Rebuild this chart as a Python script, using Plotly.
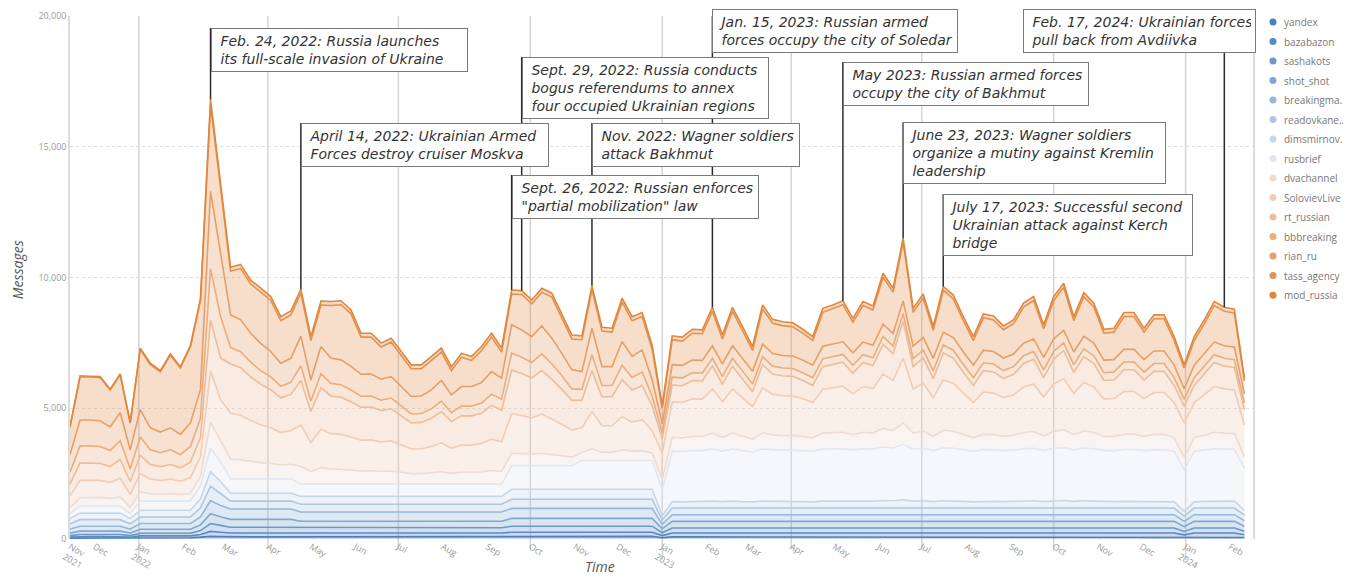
import plotly.graph_objects as go
import pandas as pd

# ---------------- data (weekly message counts) ----------------
weeks = pd.date_range("2021-11-14", periods=118, freq="7D")

yandex = [30, 40, 40, 40, 40, 40, 30, 50, 50, 50,
          50, 50, 50, 70, 100, 90, 80, 80, 80, 80,
          80, 80, 80, 80, 80, 80, 80, 80, 80, 80,
          80, 80, 80, 80, 80, 80, 80, 80, 80, 80,
          80, 80, 80, 80, 100, 100, 100, 100, 100, 100,
          100, 100, 100, 100, 100, 100, 100, 100, 100, 50,
          80, 80, 80, 80, 80, 80, 80, 80, 80, 80,
          80, 80, 80, 80, 80, 80, 80, 80, 80, 80,
          80, 80, 80, 80, 80, 80, 80, 80, 80, 80,
          80, 80, 80, 80, 80, 80, 80, 80, 80, 80,
          80, 80, 80, 80, 80, 80, 80, 80, 80, 80,
          80, 60, 80, 80, 80, 80, 80, 60]
bazabazon = [40, 50, 50, 50, 50, 50, 40, 70, 70, 70,
             70, 70, 70, 100, 190, 170, 150, 150, 150, 150,
             150, 150, 150, 150, 150, 150, 150, 150, 150, 150,
             150, 150, 150, 150, 150, 150, 150, 150, 150, 150,
             150, 150, 150, 150, 160, 160, 160, 160, 160, 160,
             160, 160, 160, 160, 160, 160, 160, 160, 160, 80,
             150, 150, 150, 150, 150, 150, 150, 150, 150, 150,
             150, 150, 150, 150, 150, 150, 150, 150, 150, 150,
             150, 150, 150, 150, 150, 150, 150, 150, 150, 150,
             150, 150, 150, 150, 150, 150, 150, 150, 150, 150,
             150, 150, 150, 150, 150, 150, 150, 150, 150, 150,
             150, 100, 150, 150, 150, 150, 150, 100]
sashakots = [60, 80, 80, 80, 80, 80, 60, 100, 100, 100,
             100, 100, 100, 150, 300, 260, 220, 220, 220, 220,
             220, 220, 220, 200, 200, 200, 200, 200, 200, 200,
             200, 200, 200, 200, 200, 200, 200, 200, 200, 200,
             200, 200, 200, 200, 230, 230, 230, 230, 230, 230,
             230, 230, 230, 230, 230, 230, 230, 230, 230, 110,
             190, 190, 190, 190, 190, 190, 190, 190, 190, 190,
             190, 190, 190, 190, 190, 190, 190, 190, 190, 190,
             190, 190, 190, 190, 190, 190, 190, 190, 190, 190,
             190, 190, 190, 190, 190, 190, 190, 190, 190, 190,
             190, 190, 190, 190, 190, 190, 190, 190, 190, 190,
             190, 130, 190, 190, 190, 190, 190, 140]
shot_shot = [100, 130, 130, 130, 130, 130, 100, 150, 150, 150,
             150, 150, 150, 220, 380, 330, 300, 300, 300, 300,
             300, 300, 300, 250, 250, 250, 250, 250, 250, 250,
             250, 250, 250, 250, 250, 250, 250, 250, 250, 250,
             250, 250, 250, 250, 300, 300, 300, 300, 300, 300,
             300, 300, 300, 300, 300, 300, 300, 300, 300, 150,
             255, 255, 255, 255, 255, 255, 255, 255, 255, 255,
             255, 255, 255, 255, 255, 255, 255, 255, 255, 255,
             255, 255, 255, 255, 255, 255, 255, 255, 255, 255,
             255, 255, 255, 255, 255, 255, 255, 255, 255, 255,
             255, 255, 255, 255, 255, 255, 255, 255, 255, 255,
             255, 180, 255, 255, 255, 255, 255, 190]
breakingmash = [150, 190, 190, 190, 190, 190, 150, 220, 220, 220,
                220, 220, 220, 300, 500, 430, 400, 400, 400, 400,
                400, 400, 400, 350, 350, 350, 350, 350, 350, 350,
                350, 350, 350, 350, 350, 350, 350, 350, 350, 350,
                350, 350, 350, 350, 380, 380, 380, 380, 380, 380,
                380, 380, 380, 380, 380, 380, 380, 380, 380, 170,
                255, 255, 255, 255, 255, 255, 255, 255, 255, 255,
                255, 255, 255, 255, 255, 255, 255, 255, 255, 255,
                255, 255, 255, 255, 255, 255, 255, 255, 255, 255,
                255, 255, 255, 255, 255, 255, 255, 255, 255, 255,
                255, 255, 255, 255, 255, 255, 255, 255, 255, 255,
                255, 200, 255, 255, 255, 255, 255, 210]
readovkanews = [200, 250, 250, 250, 250, 250, 200, 250, 250, 250,
                250, 250, 250, 350, 550, 460, 300, 300, 300, 300,
                300, 300, 300, 300, 300, 300, 300, 300, 300, 300,
                300, 300, 300, 300, 300, 300, 300, 300, 300, 300,
                300, 300, 300, 300, 350, 350, 350, 350, 350, 350,
                350, 350, 350, 350, 350, 350, 350, 350, 350, 170,
                255, 255, 255, 255, 255, 255, 255, 255, 255, 255,
                255, 255, 255, 255, 255, 255, 255, 255, 255, 255,
                255, 255, 255, 255, 255, 255, 255, 255, 255, 255,
                255, 255, 255, 255, 255, 255, 255, 255, 255, 255,
                255, 255, 255, 255, 255, 255, 255, 255, 255, 255,
                255, 200, 255, 255, 255, 255, 255, 210]
dimsmirnov = [200, 250, 250, 250, 250, 250, 200, 260, 260, 260,
              260, 260, 260, 350, 550, 460, 300, 300, 300, 300,
              300, 300, 300, 300, 300, 300, 300, 300, 300, 300,
              300, 300, 300, 300, 300, 300, 300, 300, 300, 300,
              300, 300, 300, 300, 380, 380, 380, 380, 380, 380,
              380, 380, 380, 380, 380, 380, 380, 380, 380, 150,
              245, 235, 245, 245, 265, 245, 265, 245, 235, 265,
              255, 255, 255, 245, 235, 265, 265, 265, 255, 265,
              265, 285, 275, 315, 265, 275, 245, 275, 275, 255,
              235, 255, 255, 245, 255, 265, 275, 245, 275, 285,
              255, 275, 265, 245, 245, 255, 255, 245, 255, 255,
              235, 180, 235, 255, 265, 265, 265, 190]
rusbrief = [200, 260, 260, 260, 260, 260, 200, 350, 350, 350,
            350, 350, 350, 500, 900, 750, 550, 550, 550, 550,
            550, 550, 550, 470, 470, 470, 470, 470, 470, 470,
            470, 470, 470, 470, 470, 470, 470, 470, 470, 470,
            470, 470, 470, 470, 900, 900, 900, 900, 900, 900,
            900, 1100, 1100, 1100, 1100, 1100, 1100, 1100, 1100, 1000,
            1930, 1930, 1950, 1950, 1990, 1930, 1990, 1950, 1910, 1990,
            1970, 1960, 1960, 1950, 1930, 1990, 1990, 2000, 1970, 2000,
            1990, 2050, 2020, 2120, 1990, 2010, 1950, 2030, 2010, 1970,
            1930, 1980, 1970, 1950, 1960, 2000, 2010, 1950, 2010, 2030,
            1970, 2020, 2000, 1950, 1950, 1980, 1980, 1950, 1970, 1970,
            1930, 1600, 1930, 1960, 2000, 1990, 1980, 1600]
dvachannel = [220, 330, 330, 340, 300, 350, 230, 350, 280, 260,
              280, 250, 290, 360, 990, 790, 750, 730, 670, 620,
              590, 530, 560, 680, 480, 630, 580, 570, 540, 500,
              510, 490, 500, 450, 400, 400, 430, 470, 410, 450,
              450, 460, 520, 490, 480, 470, 450, 480, 430, 390,
              330, 310, 450, 320, 320, 410, 360, 380, 280, 400,
              520, 520, 540, 540, 610, 520, 610, 550, 490, 620,
              570, 560, 560, 540, 520, 610, 620, 630, 580, 630,
              610, 710, 670, 820, 610, 650, 550, 670, 650, 580,
              520, 590, 580, 550, 570, 620, 640, 560, 640, 680,
              580, 650, 620, 540, 540, 590, 590, 540, 590, 590,
              520, 480, 520, 570, 630, 610, 600, 450]
SolovievLive = [450, 660, 660, 650, 610, 720, 490, 700, 560, 530,
                560, 510, 600, 740, 1960, 1590, 1760, 1700, 1560, 1450,
                1360, 1240, 1290, 1580, 1110, 1470, 1350, 1330, 1260, 1180,
                1180, 1120, 1150, 1040, 940, 950, 1010, 1110, 960, 1040,
                1040, 1090, 1200, 1130, 1510, 1450, 1380, 1500, 1370, 1200,
                1030, 950, 1420, 1010, 1010, 1270, 1110, 1180, 860, 1000,
                1360, 1350, 1440, 1430, 1690, 1370, 1690, 1470, 1240, 1720,
                1550, 1520, 1510, 1440, 1350, 1680, 1720, 1760, 1560, 1750,
                1700, 2080, 1910, 2480, 1680, 1840, 1470, 1930, 1830, 1580,
                1350, 1610, 1590, 1480, 1540, 1740, 1810, 1490, 1810, 1960,
                1580, 1860, 1740, 1440, 1450, 1630, 1630, 1450, 1600, 1600,
                1350, 1300, 1350, 1540, 1750, 1690, 1670, 1200]
rt_russian = [450, 660, 660, 650, 610, 720, 490, 700, 560, 530,
              560, 510, 600, 740, 1960, 1590, 1880, 1820, 1670, 1550,
              1460, 1330, 1380, 1700, 1190, 1580, 1440, 1420, 1350, 1260,
              1260, 1200, 1230, 1120, 1000, 1010, 1080, 1190, 1020, 1120,
              1120, 1160, 1290, 1210, 1670, 1610, 1530, 1660, 1510, 1330,
              1140, 1050, 1570, 1110, 1110, 1410, 1230, 1310, 950, 550,
              650, 640, 700, 700, 870, 660, 870, 720, 570, 890,
              780, 760, 750, 700, 650, 860, 890, 920, 790, 920,
              880, 1130, 1020, 1400, 860, 970, 730, 1030, 970, 800,
              650, 820, 810, 730, 780, 900, 950, 740, 950, 1060,
              800, 980, 900, 700, 710, 830, 830, 710, 810, 810,
              650, 650, 650, 780, 920, 870, 860, 600]
bbbreaking = [450, 660, 660, 650, 610, 720, 490, 700, 560, 530,
              560, 510, 600, 740, 1960, 1590, 630, 610, 560, 520,
              490, 440, 460, 570, 400, 530, 480, 480, 450, 420,
              420, 400, 410, 370, 340, 340, 360, 400, 340, 370,
              370, 390, 430, 410, 650, 620, 590, 640, 590, 520,
              440, 410, 610, 430, 430, 550, 480, 510, 370, 220,
              300, 300, 300, 300, 300, 300, 300, 300, 300, 300,
              300, 300, 300, 300, 300, 300, 300, 300, 300, 300,
              300, 300, 300, 300, 300, 300, 300, 300, 300, 300,
              300, 300, 300, 300, 300, 300, 300, 300, 300, 300,
              300, 300, 300, 300, 300, 300, 300, 300, 300, 300,
              300, 260, 300, 300, 300, 300, 300, 250]
rian_ru = [670, 990, 990, 980, 910, 1070, 730, 1050, 840, 790,
           840, 770, 900, 1100, 2950, 2390, 1250, 1220, 1110, 1040,
           970, 880, 920, 1130, 800, 1050, 960, 950, 900, 840,
           840, 800, 820, 750, 670, 670, 720, 790, 680, 750,
           750, 780, 860, 810, 1080, 1040, 990, 1070, 980, 860,
           730, 680, 1010, 720, 720, 910, 800, 850, 620, 350,
           480, 480, 480, 480, 480, 480, 480, 480, 480, 480,
           480, 480, 480, 480, 480, 480, 480, 480, 480, 480,
           480, 480, 480, 480, 480, 480, 480, 480, 480, 480,
           480, 480, 480, 480, 480, 480, 480, 480, 480, 480,
           480, 480, 480, 480, 480, 480, 480, 480, 480, 480,
           480, 400, 480, 480, 480, 480, 480, 350]
tass_agency = [1050, 1660, 1645, 1660, 1410, 1450, 1020, 2300, 2420, 2300,
               2780, 2540, 2910, 3400, 3320, 2520, 1670, 1970, 1880, 1960,
               1950, 1630, 1660, 1640, 1510, 1590, 2020, 2110, 2010, 1420,
               1410, 1230, 1320, 1190, 1060, 1040, 1130, 1090, 930, 1120,
               1000, 1230, 1320, 1000, 1180, 1360, 1250, 1290, 1570, 1380,
               1180, 1220, 1470, 1360, 1320, 1510, 1370, 1280, 1170, 600,
               950, 930, 1030, 1020, 1320, 960, 1320, 1070, 800, 1350,
               1160, 1140, 1120, 1030, 940, 1300, 1350, 1420, 1170, 1400,
               1350, 1790, 1580, 2250, 1300, 1510, 1070, 1610, 1480, 1200,
               940, 1240, 1210, 1080, 1160, 1380, 1470, 1090, 1470, 1650,
               1200, 1520, 1380, 1030, 1050, 1260, 1260, 1050, 1230, 1230,
               940, 800, 940, 1160, 1400, 1320, 1300, 500]
mod_russia = [30, 30, 30, 30, 30, 30, 30, 50, 50, 50,
              50, 50, 50, 80, 200, 180, 150, 150, 150, 150,
              150, 150, 150, 150, 150, 150, 150, 150, 150, 150,
              150, 150, 150, 150, 150, 150, 150, 150, 150, 150,
              150, 150, 150, 150, 150, 150, 150, 150, 150, 150,
              150, 150, 150, 150, 150, 150, 150, 150, 150, 100,
              150, 150, 150, 150, 150, 150, 150, 150, 150, 150,
              150, 150, 150, 150, 150, 150, 150, 150, 150, 150,
              150, 150, 150, 150, 150, 150, 150, 150, 150, 150,
              150, 150, 150, 150, 150, 150, 150, 150, 150, 150,
              150, 150, 150, 150, 150, 150, 150, 150, 150, 150,
              150, 120, 150, 150, 150, 150, 150, 100]

channels = ["yandex", "bazabazon", "sashakots", "shot_shot", "breakingmash",
            "readovkanews", "dimsmirnov175", "rusbrief", "dvachannel", "SolovievLive",
            "rt_russian", "bbbreaking", "rian_ru", "tass_agency", "mod_russia"]
legend_labels = ["yandex", "bazabazon", "sashakots", "shot_shot", "breakingma\u2026",
                 "readovkane\u2026", "dimsmirnov\u2026", "rusbrief", "dvachannel", "SolovievLive",
                 "rt_russian", "bbbreaking", "rian_ru", "tass_agency", "mod_russia"]
series_values = [yandex, bazabazon, sashakots, shot_shot, breakingmash,
                 readovkanews, dimsmirnov, rusbrief, dvachannel, SolovievLive,
                 rt_russian, bbbreaking, rian_ru, tass_agency, mod_russia]
colors = ["#4c7fbd", "#5a8ac3", "#6c98ca", "#80a7d2", "#96b7da",
          "#adc7e2", "#c6d7ea", "#e1e6f0", "#ecdcd3", "#efcdb6",
          "#ecbd9b", "#e9ad80", "#e69f67", "#e39250", "#e0873d"]

# events: (date of the weekly point the marker line is drawn to, label)
event_dates = ["2022-02-20", "2022-04-24", "2022-09-25", "2022-11-13", "2022-09-18",
               "2023-02-05", "2023-05-07", "2023-06-18", "2023-07-16", "2024-01-28"]
event_labels = [
    "Feb. 24, 2022: Russia launches<br>its full-scale invasion of Ukraine",
    "April 14, 2022: Ukrainian Armed<br>Forces destroy cruiser Moskva",
    "Sept. 29, 2022: Russia conducts<br>bogus referendums to annex<br>four occupied Ukrainian regions",
    "Nov. 2022: Wagner soldiers<br>attack Bakhmut",
    "Sept. 26, 2022: Russian enforces<br>\"partial mobilization\" law",
    "Jan. 15, 2023: Russian armed<br>forces occupy the city of Soledar",
    "May 2023: Russian armed forces<br>occupy the city of Bakhmut",
    "June 23, 2023: Wagner soldiers<br>organize a mutiny against Kremlin<br>leadership",
    "July 17, 2023: Successful second<br>Ukrainian attack against Kerch<br>bridge",
    "Feb. 17, 2024: Ukrainian forces<br>pull back from Avdiivka",
]
# layout of the label boxes (paper y of box top, outer box width in px, horizontal shift in px)
box_top = [0.977, 0.7954, 0.9216, 0.7954, 0.696, 1.0134, 0.912, 0.797, 0.6597, 1.0134]
box_outer_width = [257, 248, 247, 208, 247, 246, 246, 263, 250, 233]
box_shift = [0, 0, 0, 0, 0, 0, 0, 0, 0, -201]

# key (legend) placement, in paper units: dot column, text column, first row, row step
KEY_DOT_X, KEY_TEXT_X, KEY_TOP_Y, KEY_STEP = 1.0169, 1.0245, 0.9885, 0.0373

Y_MAX = 20000
NB = "\u00a0"


def rgba(hex_color, a):
    h = hex_color.lstrip("#")
    r, g, b = int(h[0:2], 16), int(h[2:4], 16), int(h[4:6], 16)
    return f"rgba({r},{g},{b},{a})"


fig = go.Figure()
for name, vals, col in zip(channels, series_values, colors):
    fig.add_trace(go.Scatter(
        x=weeks, y=vals, name=name, mode="lines", stackgroup="messages",
        line=dict(color=col, width=1.6), fillcolor=rgba(col, 0.3),
        showlegend=False,
    ))

totals = pd.Series([sum(v[i] for v in series_values) for i in range(len(weeks))], index=weeks)

shapes = []
annotations = []

# quarter grid lines
quarters = pd.date_range("2022-01-01", "2024-01-01", freq="QS")
for q in quarters:
    shapes.append(dict(type="line", xref="x", yref="paper", x0=q, x1=q,
                       y0=-0.04 if q.month == 1 else -0.02, y1=1,
                       line=dict(color="#d4d4d4", width=1.5), layer="below"))

# event marker lines and label boxes
for d, lab, top, w, sh in zip(event_dates, event_labels, box_top, box_outer_width, box_shift):
    dt = pd.Timestamp(d)
    shapes.append(dict(type="line", xref="x", yref="y", x0=dt, x1=dt,
                       y0=totals[dt], y1=min(top, 1.0) * Y_MAX,
                       line=dict(color="#2b2b2b", width=1.5), layer="above"))
    text = "<br>".join(NB + part for part in lab.split("<br>"))
    annotations.append(dict(
        x=dt, y=top, xref="x", yref="paper", xanchor="left", yanchor="top",
        xshift=sh, showarrow=False, align="left", width=w - 10,
        text=f"<i>{text}</i>", bgcolor="white", bordercolor="#7a7a7a",
        borderwidth=1, borderpad=4,
        font=dict(family="DejaVu Sans", size=14, color="#333333"),
    ))

# key: coloured dot + channel name for every series
for k, (lab, col) in enumerate(zip(legend_labels, colors)):
    ky = KEY_TOP_Y - k * KEY_STEP
    shapes.append(dict(type="circle", xref="paper", yref="paper",
                       xsizemode="pixel", ysizemode="pixel",
                       xanchor=KEY_DOT_X, yanchor=ky, x0=-3.5, x1=3.5, y0=-3.5, y1=3.5,
                       fillcolor=col, line=dict(width=0)))
    annotations.append(dict(x=KEY_TEXT_X, y=ky, xref="paper", yref="paper",
                            xanchor="left", yanchor="middle", showarrow=False,
                            text=lab, font=dict(family="Open Sans", size=10, color="#777")))

# axis titles
annotations.append(dict(x=0.448, y=-0.0535, xref="paper", yref="paper", showarrow=False,
                        xanchor="center", yanchor="middle", text="<i>Time</i>",
                        font=dict(family="Open Sans", size=14, color="#555")))
annotations.append(dict(x=-0.0448, y=0.514, xref="paper", yref="paper", showarrow=False,
                        xanchor="center", yanchor="middle", text="<i>Messages</i>",
                        textangle=-90, font=dict(family="Open Sans", size=14, color="#555")))

# x tick labels: first data week and month starts
tick_dates = [weeks[0]] + list(pd.date_range("2021-12-01", "2024-02-01", freq="MS"))
tick_text = []
for i, t in enumerate(tick_dates):
    if i == 0:
        tick_text.append("Nov<br>2021")
    elif t.month == 1:
        tick_text.append(t.strftime("%b") + "<br>" + str(t.year))
    else:
        tick_text.append(t.strftime("%b"))

# the page body adds an 8px offset; the figure is sized so the plot area sits where the reference has it
fig.update_layout(
    width=1343, height=569,
    margin=dict(l=62, r=98, t=8, b=38),
    paper_bgcolor="white", plot_bgcolor="white",
    font=dict(family="Open Sans", color="#888"),
    showlegend=False,
    shapes=shapes, annotations=annotations,
    hovermode=False,
)
fig.update_xaxes(
    type="date", range=["2021-11-14", "2024-02-17"],
    tickvals=tick_dates, ticktext=tick_text, ticklabelposition="outside right",
    tickfont=dict(size=9, color="#999"), showgrid=False, zeroline=False,
    ticks="", showline=False, automargin=False,
)
fig.update_yaxes(
    range=[0, Y_MAX], tickvals=[0, 5000, 10000, 15000, 20000], tickformat=",",
    tickfont=dict(size=9, color="#999"), showgrid=True, gridcolor="#dedede",
    griddash="dot", gridwidth=1, zeroline=False,
    showline=True, linecolor="#dcdcdc", linewidth=1.5, mirror=True,
    automargin=False,
)

fig.write_html("out.html")
